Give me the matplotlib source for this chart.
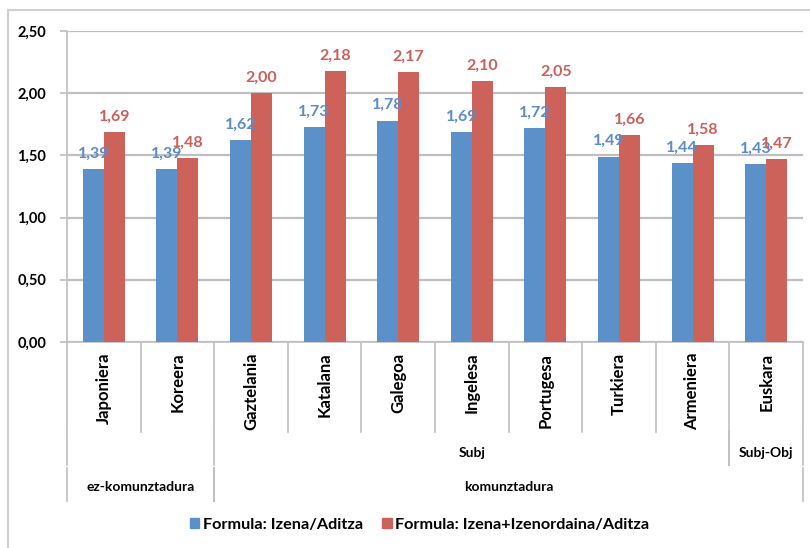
import matplotlib.pyplot as plt
import matplotlib.patches as mpatches
from matplotlib.lines import Line2D
import numpy as np

plt.rcParams['font.family'] = ['Lato', 'DejaVu Sans']
plt.rcParams['font.weight'] = 'bold'

# datuak
hizkuntzak = ['Japoniera', 'Koreera', 'Gaztelania', 'Katalana', 'Galegoa',
              'Ingelesa', 'Portugesa', 'Turkiera', 'Armeniera', 'Euskara']
izena_aditza = [1.39, 1.39, 1.62, 1.73, 1.78, 1.69, 1.72, 1.49, 1.44, 1.43]
izena_izenord = [1.69, 1.48, 2.00, 2.18, 2.17, 2.10, 2.05, 1.66, 1.58, 1.47]

# taldeak: (testua, lehen indizea, azken indizea)
maila2 = [('Subj', 2, 8), ('Subj-Obj', 9, 9)]
maila3 = [('ez-komunztadura', 0, 1), ('komunztadura', 2, 9)]

urdina = '#5b90c8'
gorria = '#cd625b'
grisa = '#bfbfbf'

fig = plt.figure(figsize=(8.1, 5.48), dpi=100)
ax = fig.add_axes([0.0827, 0.376, 0.9086, 0.5675])

x = np.arange(len(hizkuntzak))
w = 0.285
b1 = ax.bar(x - w / 2, izena_aditza, w, color=urdina, label='Formula: Izena/Aditza', zorder=3)
b2 = ax.bar(x + w / 2, izena_izenord, w, color=gorria,
            label='Formula: Izena+Izenordaina/Aditza', zorder=3)

for rect, v in zip(b1, izena_aditza):
    ax.annotate(f'{v:.2f}'.replace('.', ','), (rect.get_x() + rect.get_width() / 2, v),
                xytext=(0, 6), textcoords='offset points', ha='center', va='bottom',
                color='#5a8ccb', fontsize=11.5, fontweight='bold', zorder=5)
for rect, v in zip(b2, izena_izenord):
    ax.annotate(f'{v:.2f}'.replace('.', ','), (rect.get_x() + rect.get_width() / 2, v),
                xytext=(0, 6), textcoords='offset points', ha='center', va='bottom',
                color='#cd5f59', fontsize=11.5, fontweight='bold', zorder=5)

ax.set_xlim(-0.5, len(hizkuntzak) - 0.5)
ax.set_ylim(0, 2.5)
ax.set_yticks(np.arange(0, 2.51, 0.5))
ax.set_yticklabels([f'{t:.2f}'.replace('.', ',') for t in np.arange(0, 2.51, 0.5)],
                   fontsize=10.5, fontweight='bold')
ax.yaxis.grid(True, color=grisa, linewidth=1.6, zorder=0)
ax.tick_params(axis='y', length=5, width=1.2, color=grisa, pad=10)
ax.set_xticks([])
for s in ['top', 'right']:
    ax.spines[s].set_visible(False)
ax.spines['left'].set_color(grisa)
ax.spines['left'].set_linewidth(1.2)
ax.spines['bottom'].set_color(grisa)
ax.spines['bottom'].set_linewidth(1.2)

# kategorien etiketak eta bereizleak
trans = ax.get_xaxis_transform()
y1, y2, y3 = -0.29, -0.405, -0.51
for i, h in enumerate(hizkuntzak):
    ax.text(i, -0.035, h, rotation=90, ha='center', va='top', transform=trans,
            fontsize=12, fontweight='bold')

def lerroa(xx, ya, yb):
    ax.add_line(Line2D([xx, xx], [ya, yb], transform=trans, color=grisa,
                       linewidth=1.2, clip_on=False))

for i in range(len(hizkuntzak) + 1):
    lerroa(i - 0.5, 0, y1)
for testua, a, b in maila2:
    lerroa(a - 0.5, y1, y2 + 0.01)
    lerroa(b + 0.5, y1, y2 + 0.01)
    ax.text((a + b) / 2, (y1 + y2) / 2 - 0.01, testua, ha='center', va='center',
            transform=trans, fontsize=10, fontweight='bold')
lerroa(-0.5, y1, y2 + 0.01)
for testua, a, b in maila3:
    lerroa(a - 0.5, y2, y3)
    lerroa(b + 0.5, y2, y3)
    ax.text((a + b) / 2, (y2 + y3) / 2 - 0.01, testua, ha='center', va='center',
            transform=trans, fontsize=10, fontweight='bold')

fig.legend(handles=[mpatches.Patch(color=urdina, label='Formula: Izena/Aditza'),
                    mpatches.Patch(color=gorria, label='Formula: Izena+Izenordaina/Aditza')],
           loc='center', bbox_to_anchor=(0.518, 0.042), ncol=2, frameon=False,
           fontsize=11.7, handlelength=0.6, handleheight=0.6, handletextpad=0.2,
           columnspacing=1.2)

# kanpoko markoa
fig.add_artist(Line2D([0.0099, 0.0099], [0, 0.982], color='#d0d0d0', linewidth=1.5))
fig.add_artist(Line2D([0.0099, 1.0], [0.982, 0.982], color='#d0d0d0', linewidth=1.5))

fig.savefig('out.png', dpi=100)
